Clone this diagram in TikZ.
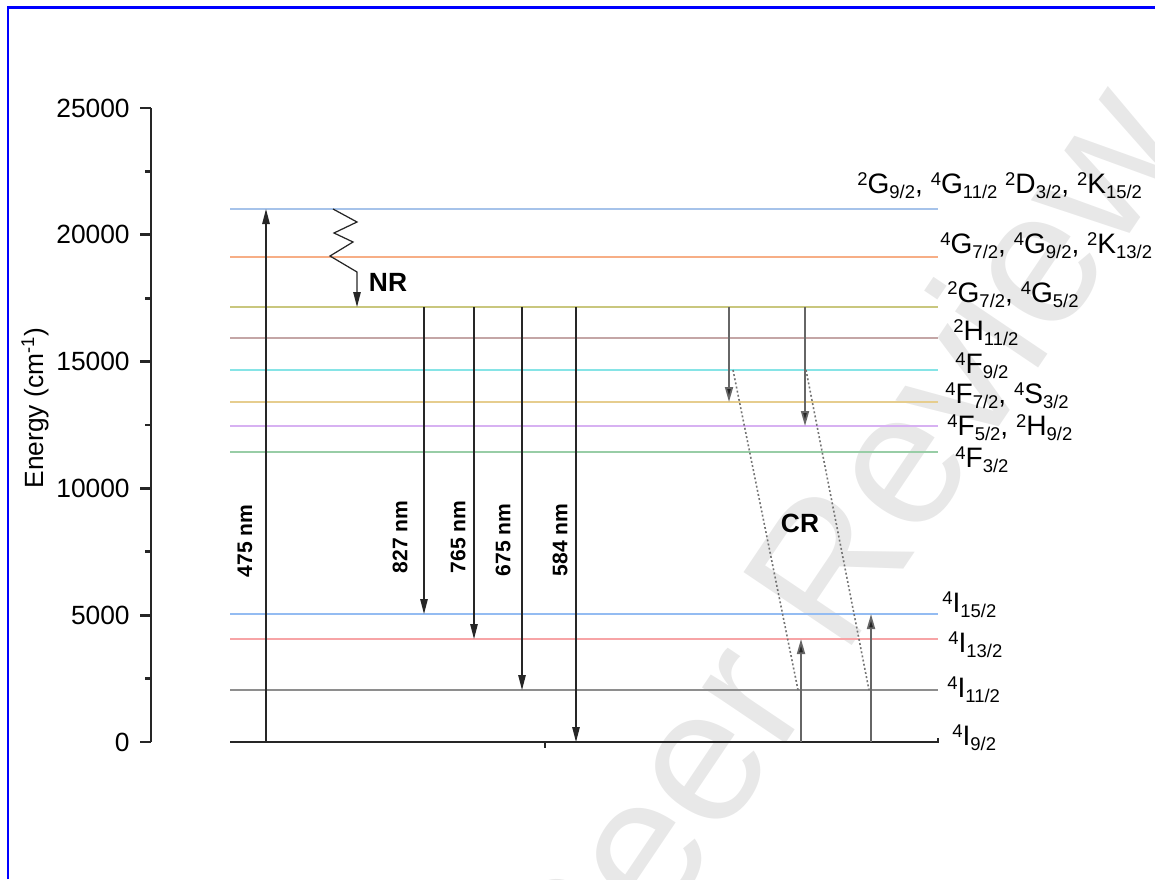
\documentclass[tikz,border=0pt]{standalone}
\usepackage{fontspec}
\setmainfont{Liberation Sans}
\usetikzlibrary{positioning, arrows.meta, calc}
\definecolor{frameblue}{HTML}{0000FF}
\definecolor{cA}{HTML}{A6C3EA}
\definecolor{cB}{HTML}{F7AE86}
\definecolor{cC}{HTML}{C9C77E}
\definecolor{cD}{HTML}{C4A6A6}
\definecolor{cE}{HTML}{86E4E6}
\definecolor{cF}{HTML}{E6CD8E}
\definecolor{cG}{HTML}{D7B1F2}
\definecolor{cH}{HTML}{98CDA6}
\definecolor{cI}{HTML}{94BCF2}
\definecolor{cJ}{HTML}{F7A4A6}
\definecolor{cK}{HTML}{8E8E8E}
\tikzset{
  lvl/.style={line width=1.1pt, draw=#1},
  ax/.style={line width=1.6pt, draw=black!85},
  emi/.style={line width=0.7pt, draw=black!85, -{Triangle[length=3mm, width=1.5mm]}},
  cra/.style={line width=1pt, draw=black!60, -{Triangle[length=3mm, width=1.6mm, fill=black!85]}},
  crl/.style={line width=0.9pt, draw=black!55, dash pattern=on 1.1pt off 1.3pt},
  wlen/.style={rotate=90, font=\fontsize{12}{12}\selectfont\bfseries, inner sep=0pt},
  proc/.style={font=\fontsize{15}{15}\selectfont\bfseries, inner sep=0pt},
  trmlbl/.style={anchor=base west, font=\fontsize{16}{16}\selectfont, inner sep=0pt},
  ylbl/.style={anchor=east, font=\fontsize{15}{15}\selectfont, inner sep=0pt},
}
\newcommand{\trm}[3]{\raisebox{4.2pt}{\fontsize{10.5}{10.5}\selectfont #1}#2\raisebox{-3pt}{\fontsize{10.5}{10.5}\selectfont #3}}

\begin{document}
\begin{tikzpicture}[x=0.02cm, y=-0.02cm]
\useasboundingbox (0,0) rectangle (1155,879);

% ── watermark ───────────────────────────────────────────────
\begin{scope}
  \clip (0,0) rectangle (1155,879);
  \node[rotate=56, text=black!9, font=\fontsize{108}{108}\selectfont] (wm) at (740,690) {For Peer Review};
\end{scope}

\draw[frameblue, line width=1.5pt] (8,879) -- (8,7.5) -- (1155,7.5);

% ── energy axis ─────────────────────────────────────────────
\draw[ax] (151,108) -- (151,742);
\foreach \i/\val in {0/0, 1/5000, 2/10000, 3/15000, 4/20000, 5/25000} {
  \pgfmathsetmacro\yy{742-126.8*\i}
  \draw[ax] (140,\yy) -- (151,\yy);
  \node[ylbl] (yt\i) at (130,\yy) {\val};
}
\foreach \i in {0,...,4} {
  \pgfmathsetmacro\yy{742-126.8*(\i+0.5)}
  \draw[ax] (145,\yy) -- (151,\yy);
}
\node[rotate=90, font=\fontsize{15}{15}\selectfont, inner sep=0pt] (ylab) at (35,408) {Energy (cm\textsuperscript{-1})};

% ── levels ──────────────────────────────────────────────────
\foreach \nm/\yy/\cl in {lvA/209/cA, lvB/257/cB, lvC/307/cC, lvD/338/cD, lvE/370/cE, lvF/402/cF,
    lvG/426/cG, lvH/452/cH, lvI/614/cI, lvJ/639/cJ, lvK/690/cK}
  \draw[lvl=\cl] (230,\yy) coordinate (\nm) -- (938,\yy);
\draw[ax] (230,742) coordinate (lvZ) -- (938,742) -- (938,738);
\draw[ax, line width=1pt] (545,742) -- (545,748);

\node[trmlbl] (tA) at (857,193) {\trm{2}{G}{9/2}, \trm{4}{G}{11/2} \trm{2}{D}{3/2}, \trm{2}{K}{15/2}};
\node[trmlbl] (tB) at (940,253) {\trm{4}{G}{7/2}, \trm{4}{G}{9/2}, \trm{2}{K}{13/2}};
\node[trmlbl] (tC) at (947,302) {\trm{2}{G}{7/2}, \trm{4}{G}{5/2}};
\node[trmlbl] (tD) at (953,340) {\trm{2}{H}{11/2}};
\node[trmlbl] (tE) at (955,373) {\trm{4}{F}{9/2}};
\node[trmlbl] (tF) at (945,403) {\trm{4}{F}{7/2}, \trm{4}{S}{3/2}};
\node[trmlbl] (tG) at (947,435) {\trm{4}{F}{5/2}, \trm{2}{H}{9/2}};
\node[trmlbl] (tH) at (955,467) {\trm{4}{F}{3/2}};
\node[trmlbl] (tI) at (942,612) {\trm{4}{I}{15/2}};
\node[trmlbl] (tJ) at (948,652) {\trm{4}{I}{13/2}};
\node[trmlbl] (tK) at (947,697) {\trm{4}{I}{11/2}};
\node[trmlbl] (tZ) at (952,745) {\trm{4}{I}{9/2}};

% ── transitions ─────────────────────────────────────────────
\foreach \nm/\xx in {c475/266, c827/424, c765/474, c675/522, c584/576, cNR/357,
    cCa/729, cCb/805, cCc/801, cCd/871}
  \coordinate (\nm) at (\xx,0);

\draw[emi] (c475 |- lvZ) -- (c475 |- lvA);
\node[wlen] (w475) at (245,541) {475 nm};

\draw[emi] ($(cNR |- lvA)+(-24,0)$) -- ++(24,13) -- ++(-23,11) -- ++(19,9) -- ++(-23,14)
  -- ++(27,16) -- (cNR |- lvC);
\node[proc] (nr) at (388,282) {NR};

\draw[emi] (c827 |- lvC) -- (c827 |- lvI);
\draw[emi] (c765 |- lvC) -- (c765 |- lvJ);
\draw[emi] (c675 |- lvC) -- (c675 |- lvK);
\draw[emi] (c584 |- lvC) -- (c584 |- lvZ);
\node[wlen] (w827) at (400,537) {827 nm};
\node[wlen] (w765) at (458,537) {765 nm};
\node[wlen] (w675) at (503,540) {675 nm};
\node[wlen] (w584) at (560,540) {584 nm};

% ── cross relaxation ────────────────────────────────────────
\draw[cra] (cCa |- lvC) -- (cCa |- lvF);
\draw[cra] (cCb |- lvC) -- (cCb |- lvG);
\draw[cra] (cCc |- lvZ) -- (cCc |- lvJ);
\draw[cra] (cCd |- lvZ) -- (cCd |- lvI);
\draw[crl] ($(cCa |- lvE)+(4,0)$) -- ($(cCc |- lvK)+(-3,0)$);
\draw[crl] ($(cCb |- lvE)+(1,0)$) -- ($(cCd |- lvK)+(-2,0)$);
\node[proc] (cr) at (800,523) {CR};

\end{tikzpicture}
\end{document}
